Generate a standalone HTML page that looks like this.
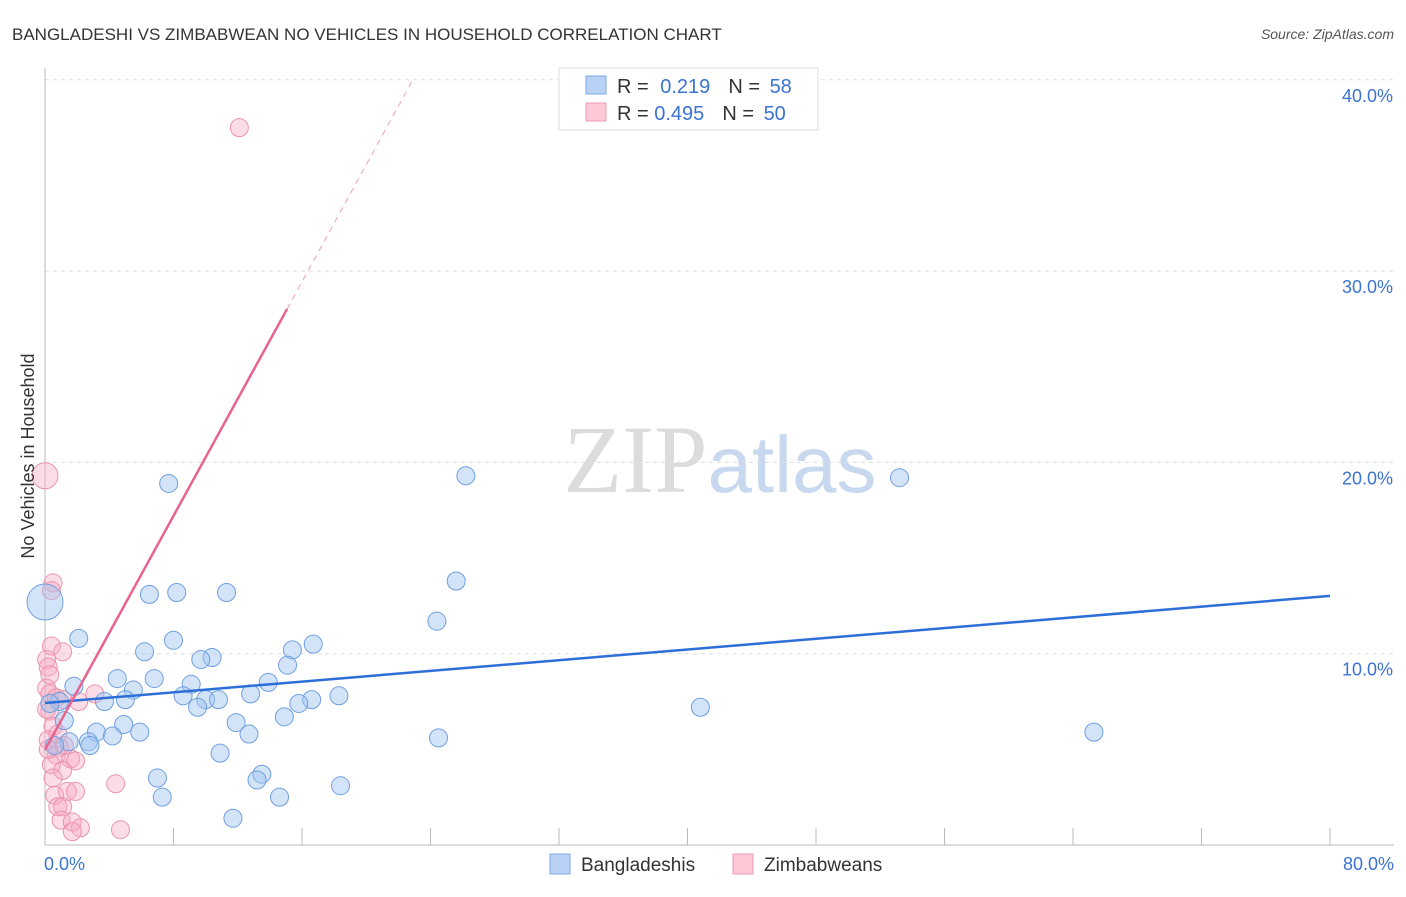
<!DOCTYPE html>
<html><head><meta charset="utf-8"><style>
body{margin:0;background:#fff;font-family:"Liberation Sans",sans-serif}
</style></head><body>
<svg id="chart" width="1406" height="892" xmlns="http://www.w3.org/2000/svg" font-family="Liberation Sans, sans-serif">
<text x="12" y="40" font-size="17" fill="#333">BANGLADESHI VS ZIMBABWEAN NO VEHICLES IN HOUSEHOLD CORRELATION CHART</text>
<text x="1394" y="39" font-size="14" fill="#555" text-anchor="end" font-style="italic">Source: ZipAtlas.com</text>
<text x="720" y="492" font-size="96" text-anchor="middle"><tspan font-family="Liberation Serif, serif" fill="#dcdcdc">ZIP</tspan><tspan fill="#c8d8ef" font-size="80">atlas</tspan></text>
<g id="grid"></g>
<g id="axes"></g>
<g id="pts"></g>
<g id="trends"></g>
<text transform="translate(34,456) rotate(-90)" font-size="18" fill="#333" text-anchor="middle">No Vehicles in Household</text>
<g>
<rect x="559" y="68" width="259" height="62" fill="#fff" stroke="#ddd"/>
<rect x="586" y="76" width="20" height="18" fill="#b9d1f5" stroke="#7aa7e6"/>
<rect x="586" y="103" width="20" height="18" fill="#fcc8d6" stroke="#ee9ab3"/>
<text x="617" y="93" font-size="20" fill="#333">R = <tspan fill="#3b73d1" dx="6">0.219</tspan><tspan fill="#333" dx="18">N = </tspan><tspan fill="#3b73d1" dx="4">58</tspan></text>
<text x="617" y="120" font-size="20" fill="#333">R = <tspan fill="#3b73d1">0.495</tspan><tspan fill="#333" dx="18">N = </tspan><tspan fill="#3b73d1" dx="4">50</tspan></text>
</g>
<g>
<rect x="550" y="854" width="20" height="20" fill="#b9d1f5" stroke="#7aa7e6"/>
<text x="581" y="871" font-size="19" fill="#333">Bangladeshis</text>
<rect x="733" y="854" width="20" height="20" fill="#fcc8d6" stroke="#ee9ab3"/>
<text x="764" y="871" font-size="19" fill="#333">Zimbabweans</text>
</g>
</svg>
<script>
const blueX=[2.1,6.5,8.2,11.3,7.7,26.2,53.2,25.6,24.4,16.7,15.4,8.0,6.2,10.4,9.7,15.1,4.5,6.8,13.9,9.1,5.5,1.8,0.9,3.7,5.0,8.6,10.0,10.8,12.8,16.6,18.3,15.8,9.5,14.9,11.9,1.2,4.9,3.2,4.2,5.9,12.7,2.7,1.5,2.8,24.5,40.8,65.3,10.9,7.0,13.5,13.2,18.4,7.3,14.6,11.7,0.0,0.3,0.6];
const blueY=[10.8,13.1,13.2,13.2,18.9,19.3,19.2,13.8,11.7,10.5,10.2,10.7,10.1,9.8,9.7,9.4,8.7,8.7,8.5,8.4,8.1,8.3,7.5,7.5,7.6,7.8,7.6,7.6,7.9,7.6,7.8,7.4,7.2,6.7,6.4,6.5,6.3,5.9,5.7,5.9,5.8,5.4,5.4,5.2,5.6,7.2,5.9,4.8,3.5,3.7,3.4,3.1,2.5,2.5,1.4,12.7,7.4,5.2];
const blueR=[9,9,9,9,9,9,9,9,9,9,9,9,9,9,9,9,9,9,9,9,9,9,9,9,9,9,9,9,9,9,9,9,9,9,9,9,9,9,9,9,9,9,9,9,9,9,9,9,9,9,9,9,9,9,9,18,9,9];
const pinkX=[12.1,0.0,0.5,0.4,0.4,1.1,0.1,0.2,0.3,0.1,0.3,0.7,1.1,2.1,3.1,0.3,0.5,0.2,0.9,0.7,1.6,1.9,0.4,1.1,0.5,4.4,0.6,1.4,1.9,0.8,1.1,1.0,1.7,2.2,1.7,4.7,0.1,0.8,0.2,1.2];
const pinkY=[37.5,19.3,13.7,13.3,10.4,10.1,9.7,9.3,8.9,8.2,7.9,7.7,7.6,7.5,7.9,7.0,6.2,5.5,5.1,4.7,4.5,4.4,4.2,3.9,3.5,3.2,2.6,2.8,2.8,2.0,2.0,1.3,1.2,0.9,0.7,0.8,7.1,5.8,5.0,5.2];
const pinkR=[9,13,9,9,9,9,9,9,9,9,9,9,9,9,9,9,9,9,9,9,9,9,9,9,9,9,9,9,9,9,9,9,9,9,9,9,9,9,9,9];
const xTicks=[0,10,20,30,40,50,60,70,80];
const yTicks=[10,20,30,40];
const yTickLabels=["10.0%","20.0%","30.0%","40.0%"];
const blueTrend=[[0,7.42],[80,13.02]];
const pinkSolid=[[0,4.97],[15.07,28.02]];
const pinkDashed=[[15.07,28.02],[22.9,40]];
const NS="http://www.w3.org/2000/svg";
const X=v=>45+v*16.0625, Y=v=>845-v*19.13;
function mk(p,t,a){const e=document.createElementNS(NS,t);for(const k in a)e.setAttribute(k,a[k]);p.appendChild(e);return e;}
const grid=document.getElementById('grid'),axes=document.getElementById('axes'),pts=document.getElementById('pts'),tr=document.getElementById('trends');
yTicks.forEach((v,i)=>{
 const l=mk(grid,'line',{x1:45,x2:1394,y1:Y(v),y2:Y(v),stroke:'#ddd','stroke-dasharray':'4,4'});
 
 
 const t=mk(axes,'text',{x:1393,y:Y(v)+22,'font-size':18,fill:'#3b73d1','text-anchor':'end'});t.textContent=yTickLabels[i];
 
 
});
mk(axes,'line',{x1:45,x2:45,y1:68,y2:845,stroke:'#bbb'});
mk(axes,'line',{x1:45,x2:1394,y1:845,y2:845,stroke:'#bbb'});
for(let v=0;v<=80;v+=8){const tk=mk(axes,'line',{x1:X(v),x2:X(v),y1:828,y2:845,stroke:'#bbb'});
 
 }
const x0=mk(axes,'text',{x:44,y:870,'font-size':18,fill:'#3b73d1'});x0.textContent='0.0%';


const x1=mk(axes,'text',{x:1394,y:870,'font-size':18,fill:'#3b73d1','text-anchor':'end'});x1.textContent='80.0%';


pinkX.forEach((v,i)=>{const c=mk(pts,'circle',{cx:X(v),cy:Y(pinkY[i]),r:pinkR[i],fill:'rgba(248,170,195,0.4)',stroke:'#ec93ae','stroke-width':1});
 
 });
blueX.forEach((v,i)=>{const c=mk(pts,'circle',{cx:X(v),cy:Y(blueY[i]),r:blueR[i],fill:'rgba(160,196,240,0.45)',stroke:'#6f9fe2','stroke-width':1});
 
 });
const bl=mk(tr,'line',{x1:X(blueTrend[0][0]),y1:Y(blueTrend[0][1]),x2:X(blueTrend[1][0]),y2:Y(blueTrend[1][1]),stroke:'#2c6fd6','stroke-width':2.5});


const ps=mk(tr,'line',{x1:X(pinkSolid[0][0]),y1:Y(pinkSolid[0][1]),x2:X(pinkSolid[1][0]),y2:Y(pinkSolid[1][1]),stroke:'#e8638e','stroke-width':2.5});


const pd=mk(tr,'line',{x1:X(pinkDashed[0][0]),y1:Y(pinkDashed[0][1]),x2:X(pinkDashed[1][0]),y2:Y(pinkDashed[1][1]),stroke:'#eea0b8','stroke-width':1,'stroke-dasharray':'6,5'});


</script>
</body></html>
